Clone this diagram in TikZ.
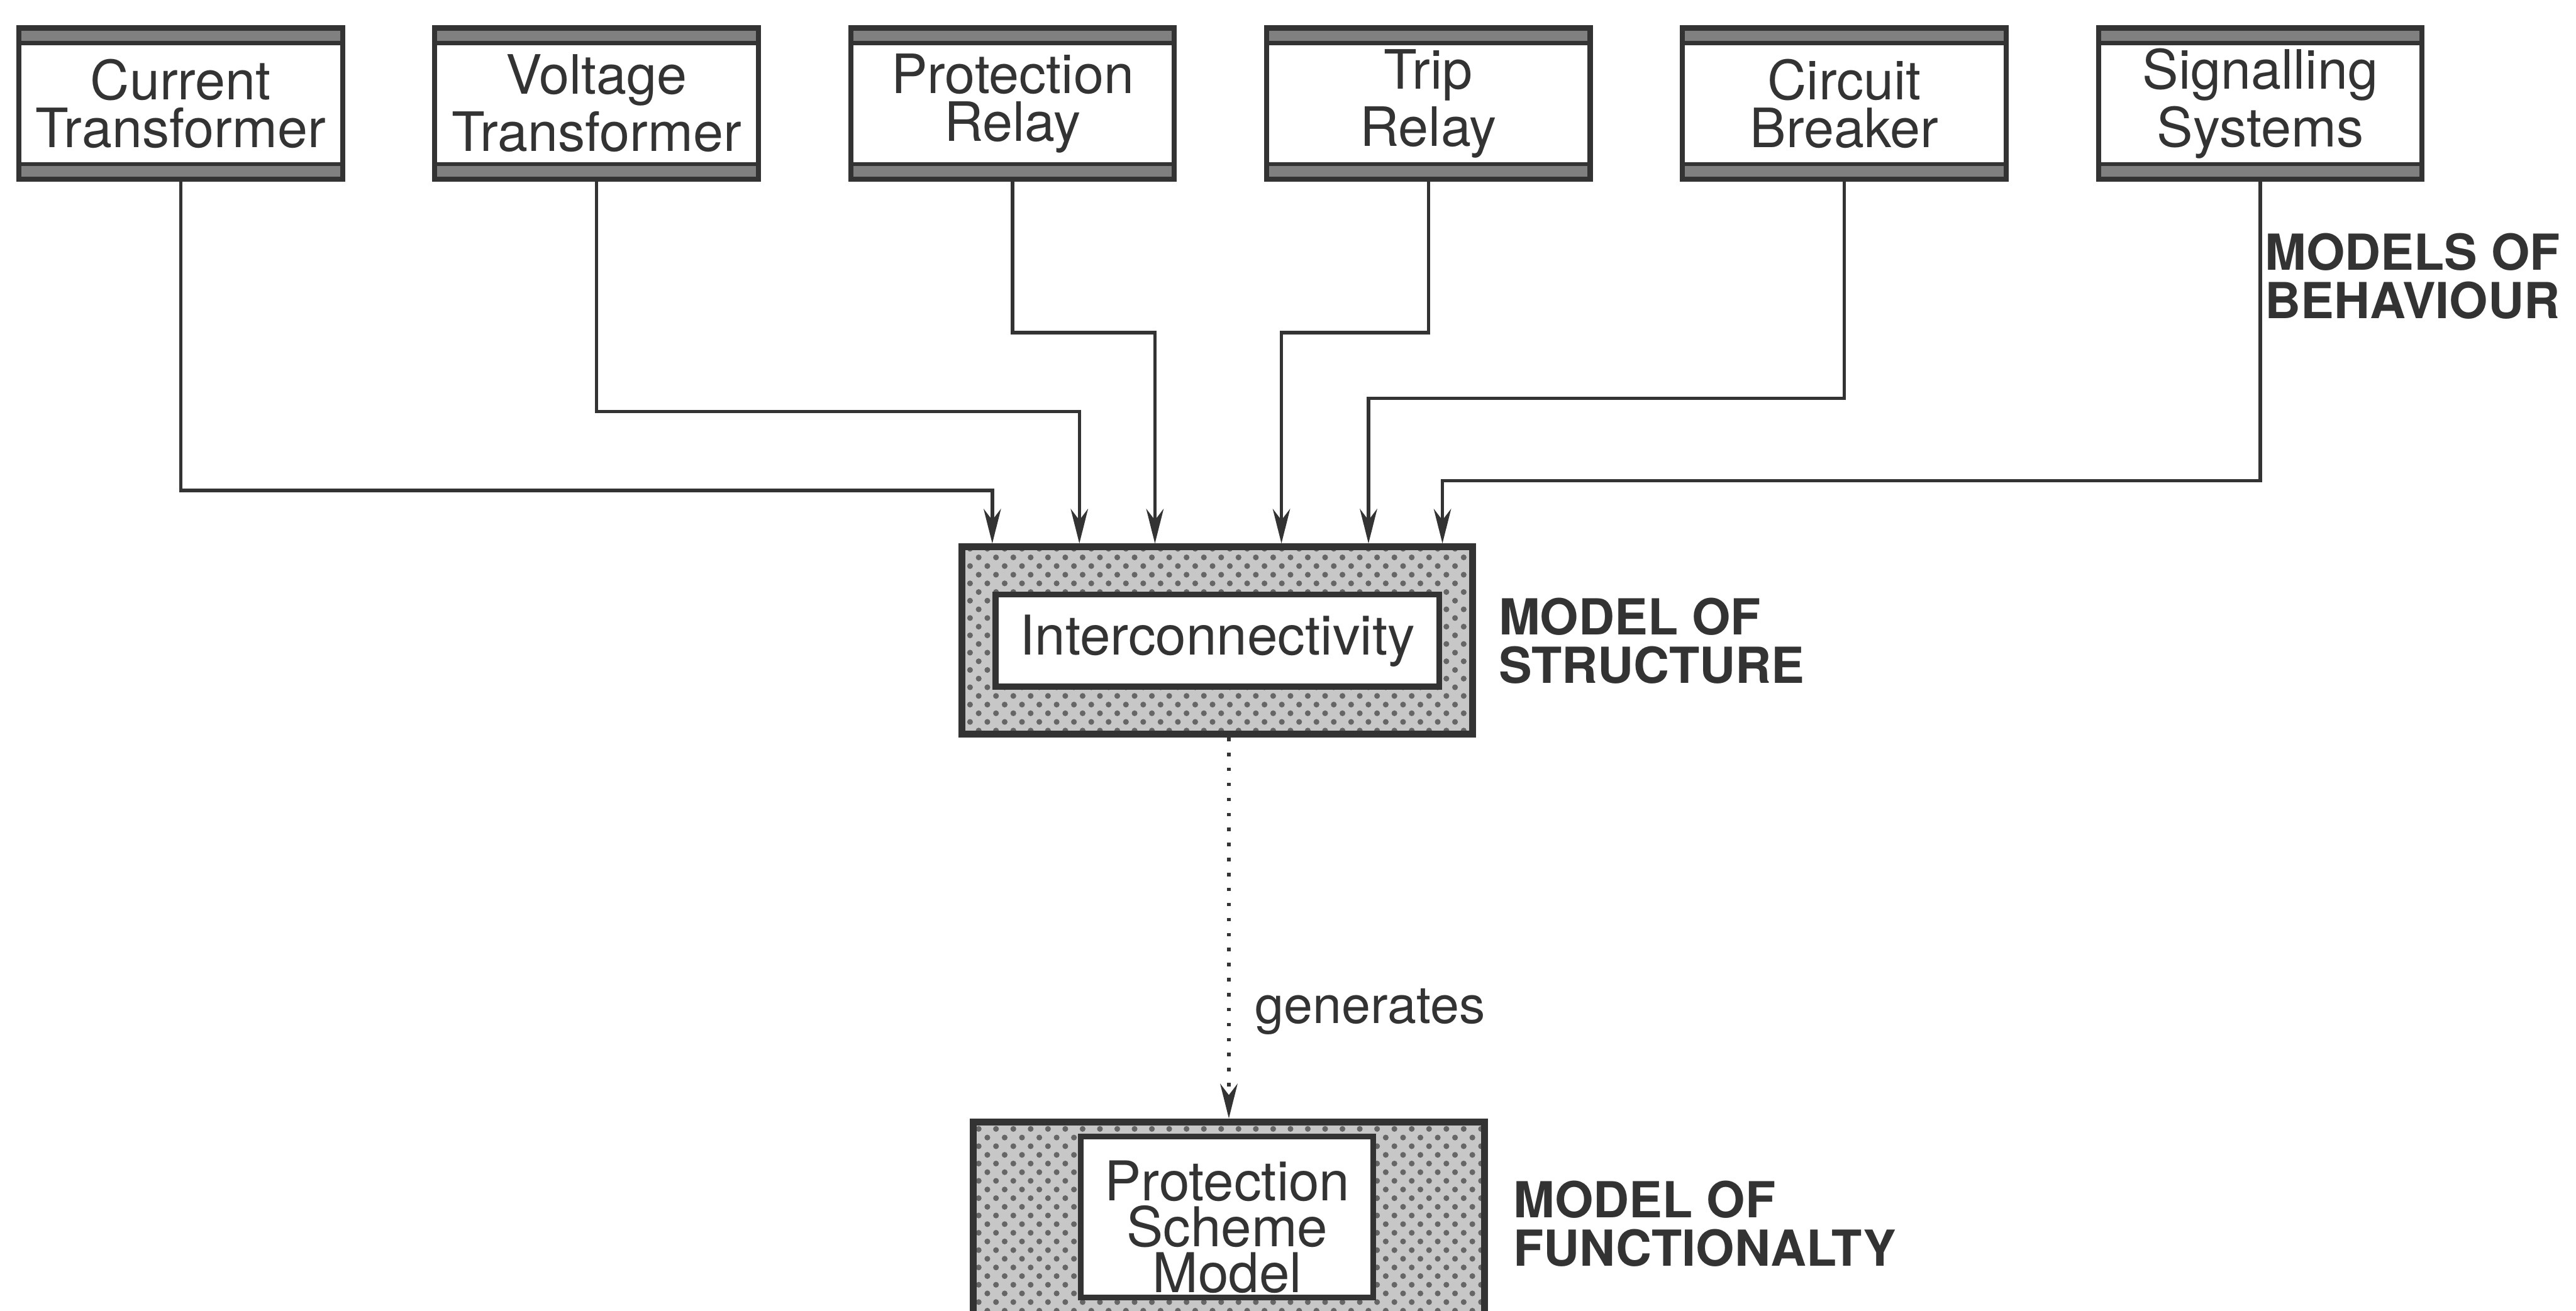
\documentclass[tikz,border=0pt]{standalone}
\usepackage{fontspec}
\setmainfont{TeX Gyre Heros}
\usetikzlibrary{arrows.meta, patterns, positioning}

\begin{document}
\begin{tikzpicture}[x=0.1mm, y=-0.1mm, black!80,
    device/.style={rectangle, draw, line width=0.9pt, minimum width=19.7mm, minimum height=9.2mm, inner sep=0pt, align=center,
        font=\fontsize{9.4}{8.3}\selectfont,
        path picture={
            \fill[black!50] (path picture bounding box.north west) rectangle ([yshift=-2.6pt]path picture bounding box.north east);
            \fill[black!50] (path picture bounding box.south west) rectangle ([yshift=2.6pt]path picture bounding box.south east);
            \draw[line width=0.7pt] ([yshift=-2.6pt]path picture bounding box.north west) -- ([yshift=-2.6pt]path picture bounding box.north east);
            \draw[line width=0.7pt] ([yshift=2.6pt]path picture bounding box.south west) -- ([yshift=2.6pt]path picture bounding box.south east);}},
    frame/.style={rectangle, draw, line width=1.2pt, preaction={fill=black!22}, pattern=crosshatch dots, pattern color=black!60, minimum width=31.1mm},
    inner/.style={rectangle, draw, line width=1pt, fill=white, inner sep=0pt, align=center, font=\fontsize{9.5}{8}\selectfont},
    tag/.style={inner sep=0pt, align=left, font=\fontsize{8.6}{8.4}\selectfont\bfseries},
    arrow/.style={-{Stealth[length=6pt, width=3pt]}, line width=0.6pt},
    genarrow/.style={-{Stealth[length=6pt, width=3pt]}, line width=0.6pt, dotted}
]
\path[use as bounding box, clip] (0,0) rectangle (1568,798);

% models of behaviour
\node[device] (ct) at (110,63) {Current\\Transformer};
\node[device, right=5.3mm of ct] (vt) {Voltage\\Transformer};
\node[device, right=5.3mm of vt] (pr) {Protection\\Relay};
\node[device, right=5.3mm of pr] (tr) {Trip\\Relay};
\node[device, right=5.3mm of tr] (cb) {Circuit\\Breaker};
\node[device, right=5.3mm of cb] (ss) {Signalling\\Systems};
\node[tag, anchor=west] (behav) at (1378,168) {MODELS OF\\BEHAVIOUR};

% model of structure
\node[frame, minimum height=11.4mm] (ic) at (741,390) {};
\node[inner, minimum width=27mm, minimum height=5.6mm] (icin) at (ic.center) {Interconnectivity};
\node[tag, right=1.3mm of ic] (struct) {MODEL OF\\STRUCTURE};

% model of functionality
\node[frame, minimum height=12.4mm] (psm) at (748,745) {};
\node[inner, minimum width=17.8mm, minimum height=9.8mm] (psmin) at (747,741) {};
\node[inner sep=0pt, align=center, font=\fontsize{9.5}{8}\selectfont] (psmtext) at (747,747) {Protection\\Scheme\\Model};
\node[tag, right=1.5mm of psm] (func) {MODEL OF\\FUNCTIONALTY};

\draw[arrow] (ct.south) -- ++(0,188) -| ([xshift=-13.7mm]ic.north);
\draw[arrow] (vt.south) -- ++(0,140) -| ([xshift=-8.4mm]ic.north);
\draw[arrow] (pr.south) -- ++(0,92) -| ([xshift=-3.8mm]ic.north);
\draw[arrow] (tr.south) -- ++(0,92) -| ([xshift=3.9mm]ic.north);
\draw[arrow] (cb.south) -- ++(0,132) -| ([xshift=9.2mm]ic.north);
\draw[arrow] (ss.south) -- ++(0,182) -| ([xshift=13.7mm]ic.north);
\draw[genarrow] (ic.south -| psm.north) -- (psm.north)
    node[pos=0.72, right=1.5mm, inner sep=0pt, font=\fontsize{9}{9}\selectfont] (gen) {generates};
\end{tikzpicture}
\end{document}
